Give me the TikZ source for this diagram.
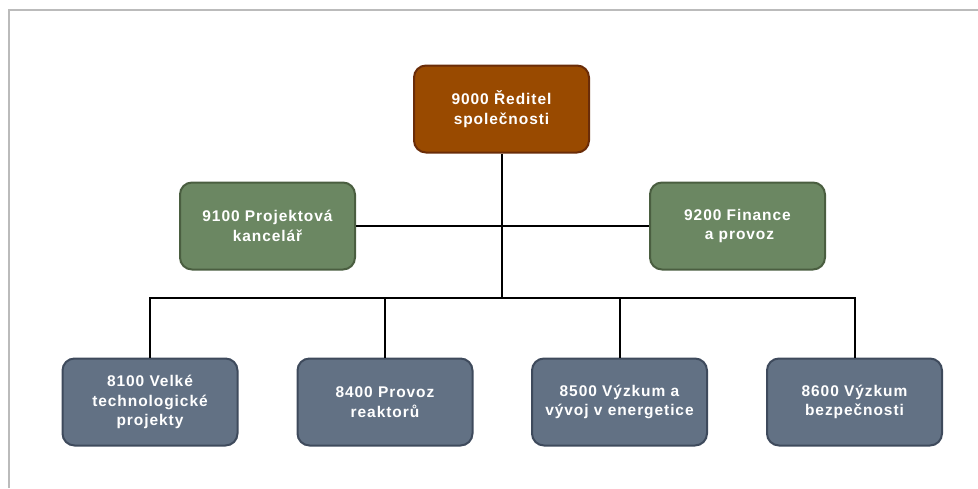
\documentclass[tikz,border=0pt]{standalone}
\usepackage{fontspec}
\setmainfont{Liberation Sans}
\newfontfamily\boxfont[LetterSpace=6]{Liberation Sans}
\definecolor{brfill}{HTML}{994A00}
\definecolor{brdraw}{HTML}{6A2C08}
\definecolor{grfill}{HTML}{6B8762}
\definecolor{grdraw}{HTML}{4A5E40}
\definecolor{blfill}{HTML}{627184}
\definecolor{bldraw}{HTML}{3E4A5C}
\definecolor{framec}{HTML}{BBBBBB}
\begin{document}
\begin{tikzpicture}[x=1pt,y=-1pt,
  box/.style={rounded corners=12pt,line width=2pt,minimum width=175pt,minimum height=87pt,
    text=white,align=center,font=\boxfont\fontsize{15.5}{19.5}\selectfont\bfseries,inner sep=0pt},
  brbox/.style={box,fill=brfill,draw=brdraw},
  grbox/.style={box,fill=grfill,draw=grdraw},
  blbox/.style={box,fill=blfill,draw=bldraw},
  conn/.style={line width=2pt,black}]
\useasboundingbox (0,0) rectangle (978,488);
\coordinate (fa) at (9,488);
\coordinate (fb) at (9,10);
\coordinate (fc) at (978,10);
\draw[framec,line width=2pt] (fa) -- (fb) -- (fc);
\node[brbox] (top) at (501.5,109) {9000 Ředitel\\společnosti};
\node[grbox] (pk) at (267.5,226) {9100 Projektová\\kancelář};
\node[grbox] (fin) at (737.5,226) {9200 Finance\\\hspace*{4pt}a provoz};
\node[blbox] (b1) at (150,402) {8100 Velké\\technologické\\projekty};
\node[blbox] (b2) at (385,402) {8400 Provoz\\reaktorů};
\node[blbox] (b3) at (619.5,402) {8500 Výzkum a\\vývoj v energetice};
\node[blbox] (b4) at (854.5,402) {8600 Výzkum\\bezpečnosti};
\coordinate (hub) at (501.5,298);
\draw[conn] (top.south) -- (hub);
\draw[conn] (pk.east) -- (fin.west);
\draw[conn] (b1.north) |- (hub);
\draw[conn] (b4.north) |- (hub);
\draw[conn] (b2.north) -- (b2.north |- hub);
\draw[conn] (b3.north) -- (b3.north |- hub);
\end{tikzpicture}
\end{document}
